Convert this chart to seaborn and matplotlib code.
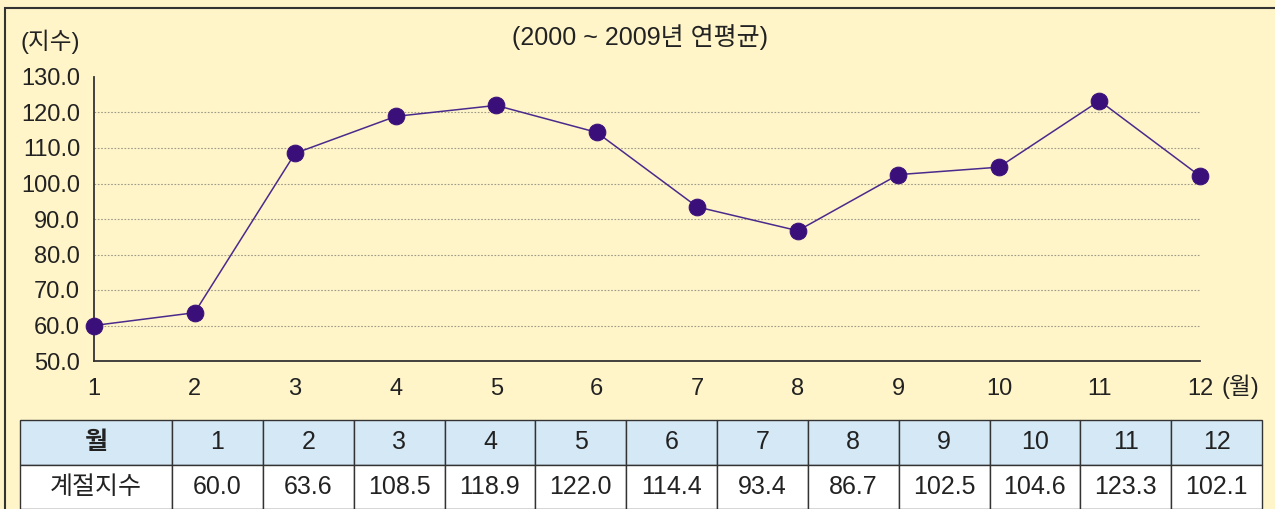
import matplotlib

matplotlib.use("Agg")
import matplotlib.pyplot as plt
import seaborn as sns
import pandas as pd
from matplotlib.patches import Rectangle

# 데이터
months = [1, 2, 3, 4, 5, 6, 7, 8, 9, 10, 11, 12]
seasonal_index = [60.0, 63.6, 108.5, 118.9, 122.0, 114.4, 93.4, 86.7, 102.5, 104.6, 123.3, 102.1]
y_ticks = [50, 60, 70, 80, 90, 100, 110, 120, 130]
title_text = "(2000 ~ 2009년 연평균)"
y_unit = "(지수)"
x_unit = "(월)"
row_header = "월"
row_label = "계절지수"

bg = "#FFF5C9"
line_color = "#4A2A8C"
marker_color = "#3B0F7A"

sns.set_style("white")
plt.rcParams["font.family"] = ["Liberation Sans", "Noto Sans CJK KR", "DejaVu Sans"]

fig = plt.figure(figsize=(12.75, 5.09), dpi=100, facecolor=bg)

# 바깥 테두리
fig.patches.append(
    Rectangle((5 / 1275, -0.1), 1.2, 1 - 8 / 509 + 0.1, transform=fig.transFigure,
              fill=False, edgecolor="#333333", linewidth=1.5)
)

ax = fig.add_axes([94 / 1275, 1 - 361 / 509, (1200 - 94) / 1275, (361 - 77) / 509])
ax.set_facecolor(bg)

df = pd.DataFrame({"month": months, "index": seasonal_index})
sns.lineplot(data=df, x="month", y="index", ax=ax, color=line_color, linewidth=1.1,
             marker="o", markersize=12, markerfacecolor=marker_color,
             markeredgecolor=marker_color, clip_on=False, zorder=5)

ax.set_xlim(1, 12)
ax.set_ylim(50, 130)
ax.set_xticks(months)
ax.set_yticks(y_ticks)
ax.set_yticklabels([f"{v:.1f}" for v in y_ticks])
ax.set_xlabel("")
ax.set_ylabel("")

for v in y_ticks[1:-1]:
    ax.axhline(v, color="#A09A88", linestyle=(0, (1.5, 1.5)), linewidth=0.8, zorder=0)

for side in ["top", "right"]:
    ax.spines[side].set_visible(False)
for side in ["left", "bottom"]:
    ax.spines[side].set_color("#333333")
    ax.spines[side].set_linewidth(1.3)

ax.tick_params(axis="both", direction="in", length=6, width=1.3, color="#333333",
               labelsize=17, labelcolor="#222222")
ax.tick_params(axis="y", pad=10)
ax.tick_params(axis="x", pad=12)

fig.text(640 / 1275, 1 - 37 / 509, title_text, ha="center", va="center",
         fontsize=18, color="#222222")
fig.text(20 / 1275, 1 - 42 / 509, y_unit, ha="left", va="center",
         fontsize=17, color="#222222")
fig.text(1240 / 1275, 1 - 387 / 509, x_unit, ha="center", va="center",
         fontsize=17, color="#222222")

# 아래 표
tax = fig.add_axes([20 / 1275, 0, (1262 - 20) / 1275, (509 - 420) / 509])
tax.axis("off")
cell_text = [[row_header] + [str(m) for m in months],
             [row_label] + [f"{v:.1f}" for v in seasonal_index]]
first_w = 152 / (1262 - 20)
other_w = (1 - first_w) / 12
tbl = tax.table(cellText=cell_text, cellLoc="center", bbox=[0, 0, 1, 1],
                colWidths=[first_w] + [other_w] * 12)
tbl.auto_set_font_size(False)
for (r, c), cell in tbl.get_celld().items():
    cell.set_edgecolor("#333333")
    cell.set_linewidth(1.0)
    cell.get_text().set_fontsize(18)
    cell.get_text().set_color("#222222")
    if r == 0:
        cell.set_facecolor("#D5E8F6")
        if c == 0:
            cell.get_text().set_fontweight("bold")
    else:
        cell.set_facecolor("white")

plt.savefig("out.png", dpi=100, facecolor=bg)
plt.close()
